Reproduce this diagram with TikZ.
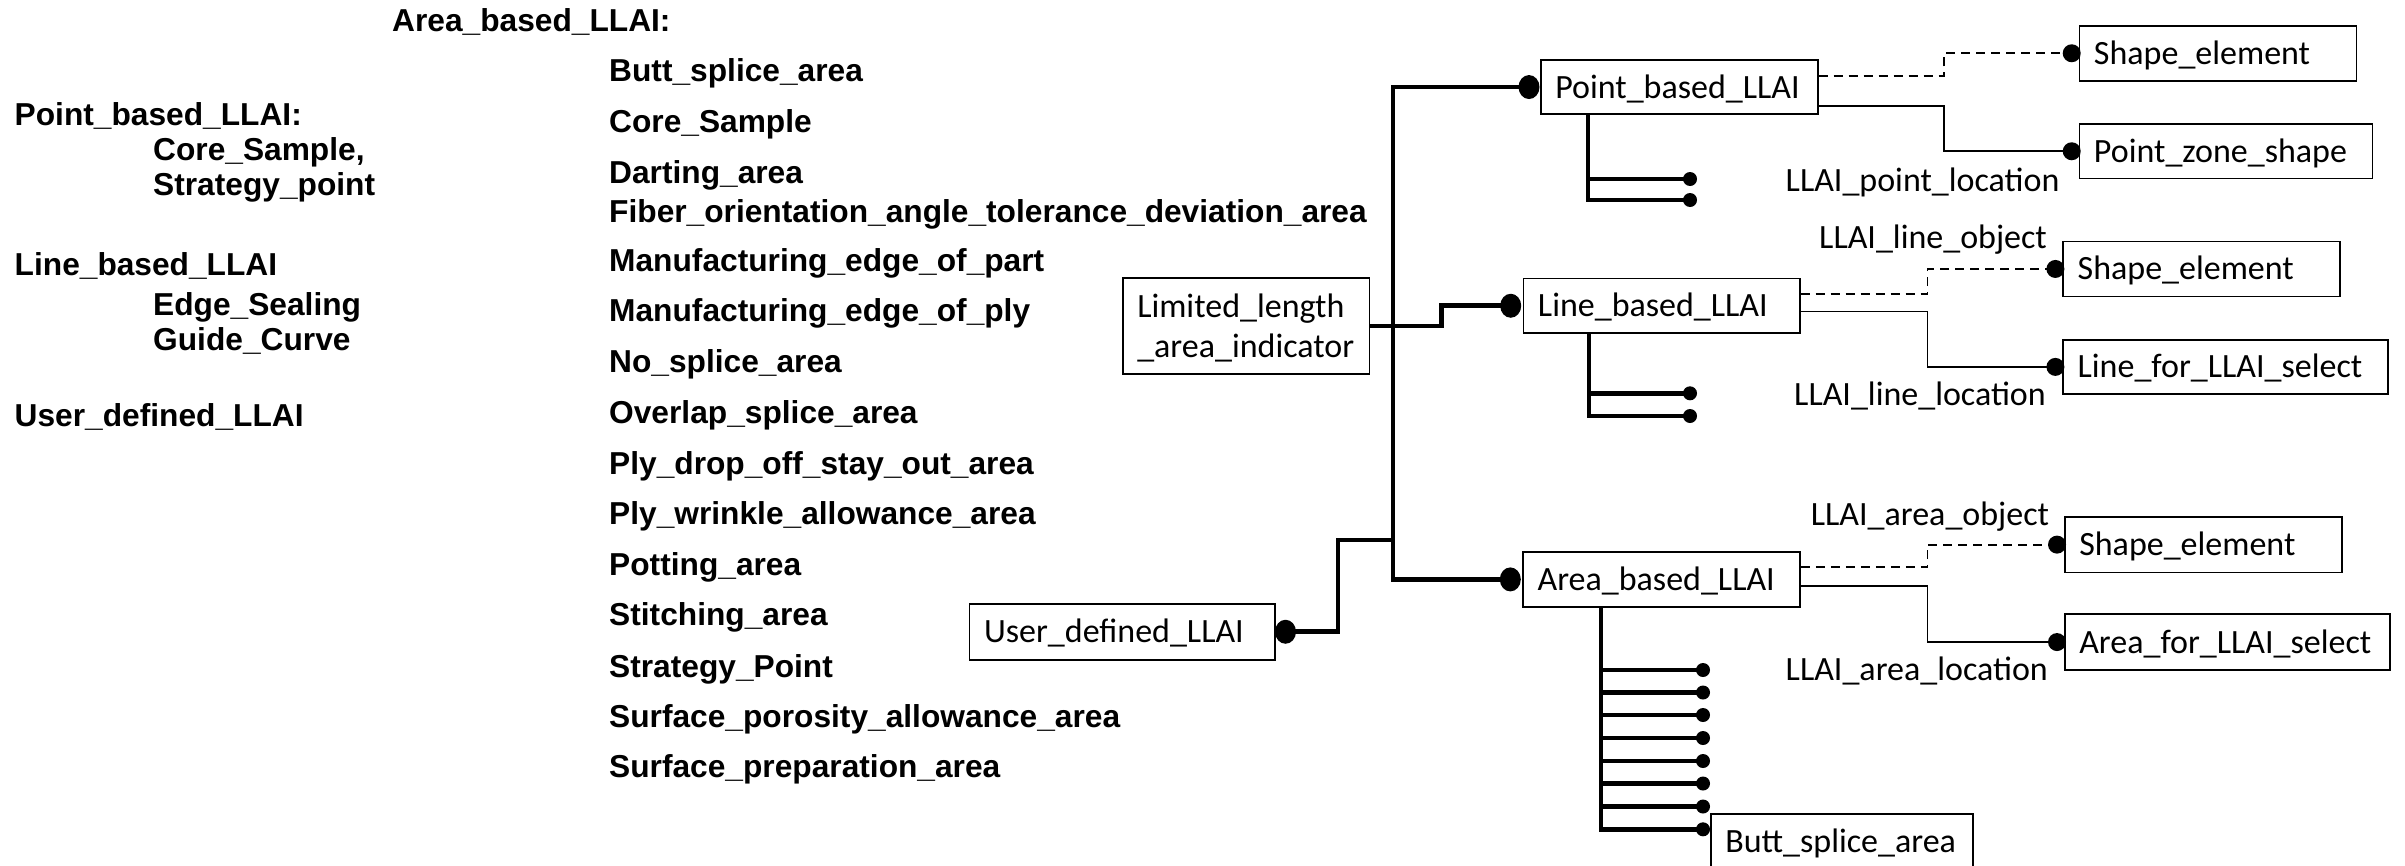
\documentclass[tikz,border=0pt]{standalone}
\usepackage{fontspec}
\setmainfont{Carlito}
\newfontfamily\arialfont{Liberation Sans}
\usetikzlibrary{shapes.geometric,calc}

\tikzset{
  ltext/.style={anchor=base west, inner sep=0pt, font=\arialfont\bfseries\fontsize{31.7}{38}\selectfont},
  lbl/.style={anchor=base west, inner sep=0pt, font=\fontsize{34}{40}\selectfont},
  box/.style={draw, line width=1.5pt, anchor=north west, inner xsep=14.5pt, inner ysep=0pt,
    align=left, text height=22pt, text depth=0pt, font=\fontsize{34}{40}\selectfont},
  bigdot/.style={ellipse, fill=black, inner sep=0pt, minimum width=21pt, minimum height=24pt},
  meddot/.style={circle, fill=black, inner sep=0pt, minimum size=18pt},
  smalldot/.style={circle, fill=black, inner sep=0pt, minimum size=14pt},
  thickline/.style={line width=4.8pt},
  thinline/.style={line width=1.9pt},
  dashline/.style={line width=1.9pt, dash pattern=on 9pt off 6pt},
}

\begin{document}
\begin{tikzpicture}[x=1pt,y=-1pt]
\fill[white] (0,0) rectangle (2405,865);
\useasboundingbox (0,0) rectangle (2405,865);

% ---------- left legend ----------
\node[ltext] (t0) at (392,31.7) {Area\_based\_LLAI:};
\node[ltext] (t1) at (14.5,125) {Point\_based\_LLAI:};
\node[ltext] (t2) at (153,160) {Core\_Sample,};
\node[ltext] (t3) at (153,195) {Strategy\_point};
\node[ltext] (t4) at (14.5,275) {Line\_based\_LLAI};
\node[ltext] (t5) at (153,315) {Edge\_Sealing};
\node[ltext] (t6) at (153,350) {Guide\_Curve};
\node[ltext] (t7) at (14.5,426.7) {User\_defined\_LLAI};

\node[ltext] (m1)  at (609,81)    {Butt\_splice\_area};
\node[ltext] (m2)  at (609,132)   {Core\_Sample};
\node[ltext] (m3)  at (609,183)   {Darting\_area};
\node[ltext] (m4)  at (609,222.5) {Fiber\_orientation\_angle\_tolerance\_deviation\_area};
\node[ltext] (m5)  at (609,271.5) {Manufacturing\_edge\_of\_part};
\node[ltext] (m6)  at (609,321.5) {Manufacturing\_edge\_of\_ply};
\node[ltext] (m7)  at (609,372.5) {No\_splice\_area};
\node[ltext] (m8)  at (609,423)   {Overlap\_splice\_area};
\node[ltext] (m9)  at (609,474)   {Ply\_drop\_off\_stay\_out\_area};
\node[ltext] (m10) at (609,524.5) {Ply\_wrinkle\_allowance\_area};
\node[ltext] (m11) at (609,575.5) {Potting\_area};
\node[ltext] (m12) at (609,625.5) {Stitching\_area};
\node[ltext] (m13) at (609,677)   {Strategy\_Point};
\node[ltext] (m14) at (609,727)   {Surface\_porosity\_allowance\_area};
\node[ltext] (m15) at (609,777.5) {Surface\_preparation\_area};

% ---------- boxes ----------
\node[box, text width=217.5pt, minimum height=96pt, text depth=40pt] (lim) at (1122,277.3) {Limited\_length\\\_area\_indicator};
\node[box, text width=276.2pt, minimum height=56pt] (ud) at (968.8,603) {User\_defined\_LLAI};
\node[box, text width=248pt, minimum height=54pt] (pb) at (1540,59.3) {Point\_based\_LLAI};
\node[box, text width=247.3pt, minimum height=54.6pt] (lb) at (1522.7,277.7) {Line\_based\_LLAI};
\node[box, text width=248pt, minimum height=54.7pt] (ab) at (1522.3,551.3) {Area\_based\_LLAI};
\node[box, text width=248pt, minimum height=55pt] (se1) at (2078.7,25) {Shape\_element};
\node[box, text width=263.8pt, minimum height=54.4pt] (pz) at (2078.7,123.3) {Point\_zone\_shape};
\node[box, text width=247.6pt, minimum height=55pt] (se2) at (2062.4,240.7) {Shape\_element};
\node[box, text width=295.6pt, minimum height=54.3pt] (lf) at (2062.4,339) {Line\_for\_LLAI\_select};
\node[box, text width=248pt, minimum height=55.7pt] (se3) at (2064,516) {Shape\_element};
\node[box, text width=296pt, minimum height=56pt] (af) at (2064,613.3) {Area\_for\_LLAI\_select};
\node[box, text width=233pt, minimum height=55pt] (bs) at (1710,813) {Butt\_splice\_area};

% ---------- labels ----------
\node[lbl] (l1) at (1785.5,191.7) {LLAI\_point\_location};
\node[lbl] (l2) at (1819,248) {LLAI\_line\_object};
\node[lbl] (l3) at (1794,405) {LLAI\_line\_location};
\node[lbl] (l4) at (1810.6,525) {LLAI\_area\_object};
\node[lbl] (l5) at (1785.5,680) {LLAI\_area\_location};

% ---------- dots ----------
\node[bigdot] (dpb) at ([xshift=-11pt]pb.west) {};
\node[bigdot] (dlb) at ([xshift=-12pt]lb.west) {};
\node[bigdot] (dab) at ([xshift=-12pt]ab.west) {};
\node[bigdot] (dud) at ([xshift=10pt]ud.east) {};
\node[meddot] (dse1) at ([xshift=-7pt]se1.west) {};
\node[meddot] (dpz) at ([xshift=-7pt]pz.west) {};
\node[meddot] (dse2) at ([xshift=-7pt]se2.west) {};
\node[meddot] (dlf) at ([xshift=-7pt]lf.west) {};
\node[meddot] (dse3) at ([xshift=-7pt]se3.west) {};
\node[meddot] (daf) at ([xshift=-7pt]af.west) {};

% ---------- main trunk ----------
\coordinate (trunkx) at (1393,0);
\coordinate (lk) at (1441.5,0);
\coordinate (uk) at (1338,540);
\draw[thickline] (dpb.center) -| (trunkx |- dab) -- (dab.center);
\draw[thickline] (lim.east) -| (lk |- dlb) -- (dlb.center);
\draw[thickline] (trunkx |- uk) -- (uk) |- (dud.center);

% ---------- right connectors ----------
\coordinate (pe) at (1944,0);
\coordinate (le) at (1927.5,0);
\draw[dashline] ([yshift=11.3pt]pb.east) -| (pe |- dse1) -- (dse1.center);
\draw[thinline] ([yshift=-18.7pt]pb.east) -| (pe |- dpz) -- (dpz.center);
\draw[dashline] ([yshift=11.7pt]lb.east) -| (le |- dse2) -- (dse2.center);
\draw[thinline] ([yshift=-5.7pt]lb.east) -| (le |- dlf) -- (dlf.center);
\draw[dashline] ([yshift=12pt]ab.east) -| (le |- dse3) -- (dse3.center);
\draw[thinline] ([yshift=-6.3pt]ab.east) -| (le |- daf) -- (daf.center);

% ---------- sub branches ----------
\node[smalldot] (p1) at (1690,179) {};
\node[smalldot] (p2) at (1690,200) {};
\draw[thickline] ([xshift=48pt]pb.south west) |- (p1.center);
\draw[thickline] ([xshift=48pt]pb.south west) |- (p2.center);

\node[smalldot] (q1) at (1690,393.3) {};
\node[smalldot] (q2) at (1690,416) {};
\draw[thickline] ([xshift=66.3pt]lb.south west) |- (q1.center);
\draw[thickline] ([xshift=66.3pt]lb.south west) |- (q2.center);

\foreach \i/\yy in {1/670,2/692.5,3/715,4/738,5/761,6/783.5,7/806.5,8/829.3}{
  \node[smalldot] (a\i) at (1703,\yy) {};
  \draw[thickline] ([xshift=78.7pt]ab.south west) |- (a\i.center);
}
\end{tikzpicture}
\end{document}
